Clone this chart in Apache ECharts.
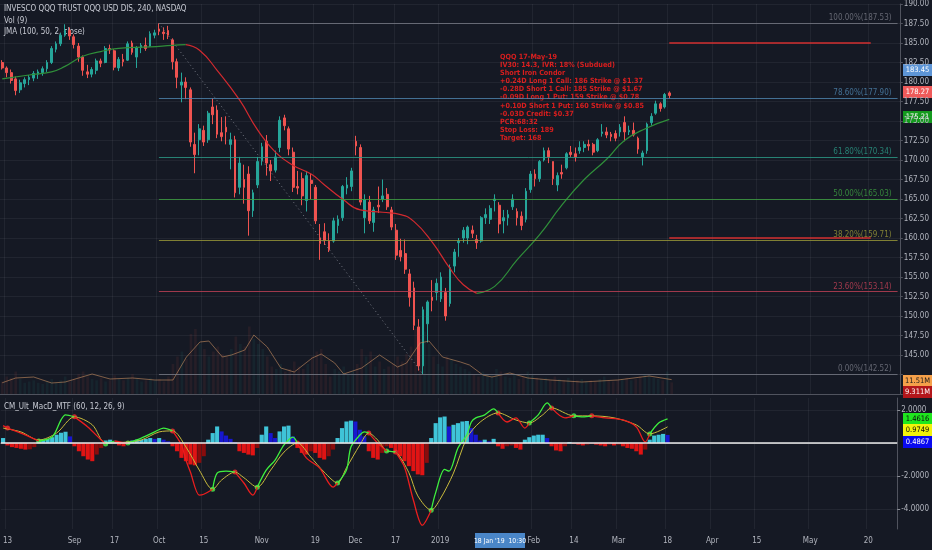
<!DOCTYPE html>
<html>
<head>
<meta charset="utf-8">
<script src="https://cdn.jsdelivr.net/npm/echarts@6/dist/echarts.min.js"></script>
<style>
html, body { margin: 0; padding: 0; background: #151924; }
#chart { width: 932px; height: 550px; }
</style>
</head>
<body>
<div id="chart"></div>
<script>
// trading calendar (weekdays minus exchange holidays), incl. empty future space
const holidays = ['2018-09-03', '2018-11-22', '2018-12-05', '2018-12-25', '2019-01-01', '2019-01-21', '2019-02-18'];
const firstDay = '2018-08-10';
const dayCount = 201;

// bottom time-scale labels
const tickLabels = {
    '2018-08-13': '13', '2018-09-04': 'Sep', '2018-09-17': '17', '2018-10-01': 'Oct',
    '2018-10-15': '15', '2018-11-01': 'Nov', '2018-11-19': '19', '2018-12-03': 'Dec',
    '2018-12-17': '17', '2019-01-02': '2019', '2019-02-01': 'Feb', '2019-02-14': '14',
    '2019-03-01': 'Mar', '2019-03-18': '18', '2019-04-01': 'Apr', '2019-04-15': '15',
    '2019-05-01': 'May', '2019-05-20': '20'
};

// QQQ daily bars: open, high, low, close
const candles = [
    [182.5,182.8,181.6,181.8],[181.8,182.0,180.6,181.2],[181.2,181.6,179.8,180.2],[180.4,180.7,178.3,178.9],
    [179.0,180.3,178.6,179.9],[179.8,180.6,179.3,180.3],[180.3,180.9,179.6,180.6],[180.5,181.4,180.1,181.1],
    [181.0,181.6,180.4,181.3],[181.2,182.0,180.8,181.7],[181.7,182.8,181.3,182.5],[182.5,184.6,182.3,184.3],
    [184.2,185.2,183.8,184.9],[184.9,186.3,184.6,186.0],[186.0,187.4,185.8,186.6],[186.6,187.0,185.4,185.9],
    [185.8,186.1,184.3,184.8],[184.6,185.0,182.6,183.2],[183.2,183.4,180.8,181.5],[181.3,182.2,180.5,181.0],
    [181.0,181.9,180.6,181.6],[181.5,183.0,181.0,182.7],[182.7,183.0,181.9,182.4],[182.5,184.6,182.4,184.3],
    [184.3,184.8,183.6,184.1],[184.0,184.2,181.5,181.9],[181.8,183.2,181.4,182.9],[182.9,183.6,182.0,182.6],
    [182.8,185.2,182.7,184.9],[185.0,185.3,183.5,183.8],[183.2,184.6,181.8,184.4],[184.4,185.0,183.7,184.7],
    [184.7,185.7,184.0,184.3],[184.6,186.5,184.5,186.2],[186.0,186.7,185.6,186.3],[186.8,187.53,186.0,186.5],
    [186.4,187.0,185.4,186.2],[186.6,187.2,185.5,186.0],[185.4,185.6,181.6,182.6],[182.6,183.0,179.2,180.6],
    [179.6,181.2,177.4,180.0],[180.0,180.6,177.8,179.3],[179.0,179.3,171.7,172.3],[172.0,173.5,168.3,170.7],
    [172.6,174.6,170.6,174.0],[173.8,174.4,171.8,172.3],[172.6,176.3,172.2,176.0],[176.8,177.9,174.6,175.8],
    [176.4,177.0,172.8,173.3],[173.5,175.5,172.4,173.0],[174.2,175.6,172.0,173.6],[172.0,173.5,168.8,172.6],
    [172.6,173.1,165.2,165.8],[166.5,170.4,165.6,169.6],[167.5,169.4,164.4,166.5],[168.2,169.2,160.3,163.5],
    [163.5,166.2,162.7,165.8],[166.8,170.4,166.4,169.8],[169.9,172.2,169.3,171.7],[172.4,173.2,168.0,169.6],
    [169.4,170.0,167.3,168.6],[168.7,171.2,168.4,170.4],[171.6,175.6,171.0,175.1],[175.4,175.8,173.8,174.4],
    [174.0,174.3,170.6,171.4],[171.0,171.6,165.9,166.5],[166.6,168.6,165.6,166.4],[167.6,168.4,164.2,165.4],
    [164.8,168.6,163.4,168.0],[167.4,168.2,165.0,167.0],[166.5,166.8,161.8,162.2],[160.0,161.8,157.2,159.3],
    [160.8,161.9,159.1,159.7],[159.6,160.6,158.2,158.5],[159.6,162.6,159.4,162.2],[161.6,162.9,160.6,162.4],
    [162.6,166.8,162.2,166.6],[166.4,167.8,165.6,166.8],[166.6,169.0,166.0,168.6],[172.4,173.1,170.6,171.8],
    [171.6,172.0,164.2,164.6],[162.6,165.6,160.6,164.9],[164.6,165.4,161.8,162.2],[162.0,164.0,160.8,163.6],
    [164.2,166.6,163.2,164.0],[165.0,167.5,164.6,165.4],[165.6,166.4,163.6,164.0],[163.6,164.0,161.0,161.4],
    [161.0,161.8,157.2,157.8],[158.4,159.9,157.0,157.6],[158.0,159.8,155.4,156.0],[155.4,156.0,151.2,152.4],
    [153.6,154.4,148.2,148.8],[148.6,149.6,143.0,143.6],[143.6,151.2,142.52,150.8],[149.0,152.0,146.6,151.8],
    [152.4,154.6,150.6,152.0],[153.0,154.8,152.0,154.2],[152.2,155.6,151.8,155.0],[153.0,153.6,149.4,150.0],
    [151.6,156.6,151.2,156.2],[156.4,158.6,155.6,158.2],[159.4,160.0,157.6,159.6],[160.0,161.4,159.4,161.0],
    [160.0,161.6,159.2,161.4],[161.0,161.6,160.0,160.6],[159.8,160.4,158.6,159.4],[159.6,162.8,159.4,162.6],
    [162.6,163.8,161.8,163.0],[162.4,164.2,161.8,163.8],[164.8,165.6,163.4,165.0],[164.2,164.6,160.6,161.8],
    [162.2,163.6,160.6,162.6],[162.6,163.6,161.6,163.0],[164.0,165.6,163.6,165.0],[163.4,163.8,161.6,162.6],
    [162.8,163.4,161.0,161.6],[162.4,166.4,162.0,166.0],[166.2,168.6,165.8,168.2],[168.2,168.8,166.6,167.6],
    [167.6,170.0,167.2,169.8],[170.0,171.6,169.8,171.2],[171.2,171.6,169.6,170.4],[169.8,169.8,166.8,167.6],
    [166.8,168.4,166.0,168.0],[168.4,169.4,167.6,168.2],[169.0,171.0,168.8,170.8],[171.0,171.8,170.4,170.7],
    [170.8,171.6,169.8,170.4],[171.2,172.4,170.8,171.6],[171.6,172.4,171.0,172.0],[172.0,172.6,171.2,171.8],
    [172.0,172.2,170.6,171.0],[171.2,172.8,171.0,172.6],[173.4,174.6,173.0,173.6],[173.6,174.2,172.8,173.2],
    [173.3,173.6,172.4,173.0],[173.4,173.8,172.4,172.8],[173.6,174.6,173.0,174.2],[174.8,175.6,172.4,173.6],
    [173.6,174.4,173.2,173.8],[173.8,174.8,173.0,173.2],[172.8,173.0,170.8,171.4],[170.4,171.2,169.3,170.9],
    [171.2,174.8,170.8,174.6],[174.8,176.0,174.4,175.6],[176.0,177.6,175.8,177.2],[177.2,177.4,176.2,176.6],
    [176.8,178.6,176.6,178.4],[178.6,178.8,177.9,178.27]
];

// volume in millions
const volumes = [
    10,14,13,18,12,9,10,11,9,8, 10,12,9,11,14,10,12,16,18,14,
    12,11,13,10,11,15,12,11,13,16, 12,10,11,13,11,12,10,14,24,30,
    34,28,48,52,40,36,30,34,38,32, 30,36,46,40,38,54,44,40,36,30,
    22,20,24,18,20,26,22,20,24,30, 34,36,24,14,20,18,22,16,18,24,
    36,30,34,22,26,20,22,24,30,26, 32,38,52,44,50,40,30,24,22,30,
    28,24,22,20,18,16,14,18,16,15, 20,18,14,13,16,12,14,18,15,13,
    12,13,11,14,12,11,13,10,11,12, 10,11,10,12,14,11,10,11,12,13,
    11,12,14,16,15,13,12,11,18,9.311
];
// Vol (9) average, [day index, millions]
const volAvg = [
    [0,9.0],[3,12.8],[7,13.6],[11,8.8],[14,9.6],[20,16.0],[24,12.0],[29,12.8],[34,11.2],[38,11.2],
    [41,29.6],[44,41.6],[46,42.4],[49,29.6],[51,31.2],[54,35.2],[56,47.2],[59,37.6],[62,20.8],[65,17.6],
    [69,28.8],[71,32.0],[74,24.8],[76,16.0],[80,20.8],[84,31.2],[88,21.6],[90,24.8],[93,40.8],[95,42.4],
    [98,29.6],[102,25.6],[104,23.2],[107,15.2],[109,13.6],[113,16.8],[117,12.8],[122,11.2],[129,9.6],
    [137,11.2],[144,14.4],[149,11.51]
];

// JMA (100, 50, 2, close)
const jmaRise1 = [[0,180.4],[6,180.9],[11,181.3],[14,182.0],[18,183.3],[22,183.9],[26,184.3],[33,184.5],[38,184.7],[41,184.8]];
const jmaFall = [[41,184.8],[44,184.1],[48,181.5],[53,177.7],[57,173.9],[61,171.0],[65,169.3],[69,168.2],[72,166.8],
    [76,165.0],[80,163.6],[85,163.3],[89,163.0],[92,162.1],[96,159.5],[100,156.1],[103,154.0],[106,152.9]];
const jmaRise2 = [[106,152.9],[110,153.8],[115,157.2],[120,160.4],[125,164.2],[130,167.5],[135,170.1],[139,172.5],[144,174.1],[149,175.21]];

// fib retracement Oct 1 high -> Dec 26 low
const fibLevels = ['100.00%', '78.60%', '61.80%', '50.00%', '38.20%', '23.60%', '0.00%'];
const fibPrices = [187.53, 177.90, 170.34, 165.03, 159.71, 153.14, 142.52];
const fibStartIdx = 35;
const fibLowIdx = 94;
// iron condor short strikes, drawn to expiry
const strikePrices = [185, 160];
const strikeFromIdx = 149;
const strikeToIdx = 194;

// CM_Ult_MacD_MTF
const histogram = [
    0.3,
    -0.15,-0.25,-0.3,-0.35,-0.4,-0.38,-0.25,
    0.1,0.2,0.25,0.35,0.5,0.62,0.68,0.4,
    -0.2,-0.5,-0.8,-1.0,-1.1,-0.7,-0.3,
    0.15,0.2,0.1,
    -0.15,-0.2,
    0.05,0.15,0.2,0.2,0.25,0.3,0.25,0.3,0.2,0.1,
    -0.2,-0.5,-0.9,-1.1,-1.3,-1.35,-1.2,-0.8,
    0.2,0.6,1.0,0.7,0.45,0.25,0.05,
    -0.5,-0.6,-0.7,-0.75,-0.3,
    0.5,1.0,0.6,0.3,0.7,1.0,1.05,0.4,
    -0.3,-0.6,-0.7,-0.5,-0.6,-0.9,-1.0,-0.8,-0.4,
    0.3,0.9,1.3,1.35,1.3,0.8,0.4,
    -0.5,-0.9,-1.0,-0.6,-0.2,-0.3,-0.5,-0.8,-1.1,-1.4,-1.7,-1.9,-1.95,-1.2,
    0.3,1.2,1.55,1.6,1.0,1.1,1.2,1.3,1.33,0.9,0.5,0.15,0.2,0.1,0.25,
    -0.2,-0.35,-0.2,-0.15,-0.3,-0.4,
    0.2,0.35,0.45,0.5,0.5,0.3,
    -0.2,-0.45,-0.5,-0.2,
    0.05,
    -0.05,-0.1,-0.15,-0.1,-0.05,-0.1,-0.15,-0.2,-0.1,-0.15,-0.1,-0.2,-0.3,-0.35,-0.5,-0.7,-0.4,
    0.2,0.45,0.5,0.55,0.4867
];
const signalLine = [[0,0.9],[4,0.67],[8,0.18],[12,0.6],[16,1.58],[20,1.1],[23,0],[28,0.06],[31,0.18],[35,0.67],
    [38,0.73],[41,-0.24],[44,-1.64],[47,-2.8],[49,-2.24],[52,-1.76],[54,-2.1],[57,-2.67],[60,-1.64],[63,-0.55],
    [66,0],[69,-0.85],[72,-1.76],[75,-2.42],[77,-1.5],[80,-0.12],[82,0.6],[84,0.18],[86,-0.48],[88,-0.55],
    [91,-1.8],[93,-3.2],[96,-4.06],[98,-3.4],[101,-1.82],[104,0.3],[107,1.27],[111,1.82],[115,1.39],[118,1.21],
    [121,1.7],[123,2.12],[128,1.64],[132,1.64],[137,1.52],[142,1.09],[145,0.55],[149,0.9749]];
const macdAbove = [
    [[8,0.12],[11,0.36],[13,1.4],[14,1.7],[16,1.58]],
    [[23,-0.06],[25,0.12]],
    [[28,0],[31,0.3],[34,0.67],[36,0.9],[38,0.73]],
    [[47,-2.8],[48,-1.82],[50,-1.7],[52,-1.76]],
    [[57,-2.67],[59,-1.64],[61,-1.03],[63,-0.12],[65,0.36],[66,0]],
    [[75,-2.42],[77,-1.64],[78,-0.24],[80,0.48],[81,0.67],[82,0.6]],
    [[86,-0.48],[88,-0.55]],
    [[96,-4.06],[97,-3.0],[99,-1.6],[100,-1.7],[102,-0.3],[104,0.5],[105,1.27],[106,1.52],[108,1.7],[110,2.06],[111,1.82]],
    [[118,1.21],[120,1.7],[122,2.42],[123,2.12]],
    [[128,1.64],[130,1.58],[132,1.64]],
    [[145,0.55],[147,1.21],[149,1.4616]]
];
const macdBelow = [
    [[0,1.05],[1,0.9],[4,0.6],[8,0.12]],
    [[16,1.58],[19,0.97],[22,0.18],[23,-0.06]],
    [[25,0.12],[27,0.02],[28,0]],
    [[38,0.73],[40,-0.12],[41,-1.03],[42,-1.76],[44,-3.15],[45,-3.1],[47,-2.8]],
    [[52,-1.76],[54,-2.42],[56,-3.15],[57,-2.67]],
    [[66,0],[68,-0.9],[71,-1.52],[74,-2.67],[75,-2.42]],
    [[82,0.6],[84,0],[86,-0.48]],
    [[88,-0.55],[90,-1.45],[92,-3.45],[94,-4.97],[96,-4.06]],
    [[111,1.82],[113,1.27],[115,1.52],[117,0.9],[118,1.21]],
    [[123,2.12],[126,1.52],[128,1.64]],
    [[132,1.64],[135,1.52],[139,1.39],[142,0.97],[144,0.06],[145,0.55]]
];
const crossUp = [[8,0.12],[23,-0.06],[28,0],[47,-2.8],[57,-2.67],[75,-2.42],[86,-0.48],[96,-4.06],[118,1.21],[128,1.64],[145,0.55]];
const crossDown = [[1,0.9],[16,1.58],[38,0.73],[52,-1.76],[66,0],[82,0.6],[88,-0.55],[111,1.82],[123,2.12],[132,1.64]];
const macdGridValues = [2, -2, -4];

const noteLines = [
    'QQQ 17-May-19',
    'IV30: 14.3, IVR: 18% (Subdued)',
    'Short Iron Condor',
    '+0.24D Long 1 Call: 186 Strike @ $1.37',
    '-0.28D Short 1 Call: 185 Strike @ $1.67',
    '-0.09D Long 1 Put: 159 Strike @ $0.78',
    '+0.10D Short 1 Put: 160 Strike @ $0.85',
    '-0.03D Credit: $0.37',
    'PCR:68:32',
    'Stop Loss: 189',
    'Target: 168'
];

(function () {
    function tradingDays(start, count, skip) {
        const out = [];
        let t = Date.parse(start + 'T00:00:00Z');
        while (out.length < count) {
            const d = new Date(t);
            const iso = d.toISOString().slice(0, 10);
            const wd = d.getUTCDay();
            if (wd !== 0 && wd !== 6 && skip.indexOf(iso) < 0) out.push(iso);
            t += 86400000;
        }
        return out;
    }
    const categories = tradingDays(firstDay, dayCount, holidays);
    const lastIdx = categories.length - 1;

    const UP = '#26a69a', DOWN = '#ef5350';
    const GRIDC = 'rgba(255,255,255,0.055)';
    const AXISTXT = '#b2b5be';
    const NARROW = '"Liberation Sans Narrow", "DejaVu Sans Condensed", "Noto Sans", sans-serif';
    const fibColors = ['#787b86', '#4f86b0', '#2c9c88', '#3fa142', '#9b9a38', '#c24156', '#787b86'];
    const isTick = (i, v) => tickLabels[v] !== undefined;

    const myChart = echarts.init(document.getElementById('chart'));

    const fibLines = fibPrices.map((p, i) => [
        {
            coord: [fibStartIdx, p],
            lineStyle: { color: fibColors[i], width: 1, type: 'solid', opacity: 0.8 },
            label: {
                show: true, position: 'insideEndTop', distance: [6, 1],
                formatter: fibLevels[i] + '(' + p.toFixed(2) + ')',
                color: fibColors[i], fontSize: 8, fontFamily: NARROW
            }
        },
        { coord: [lastIdx, p] }
    ]);
    const strikeLines = strikePrices.map(p => [
        { coord: [strikeFromIdx, p], lineStyle: { color: '#d32f2f', width: 1.5, type: 'solid' }, label: { show: false } },
        { coord: [strikeToIdx, p] }
    ]);
    const trendLine = [[
        { coord: [fibStartIdx, fibPrices[0]], lineStyle: { color: '#787b86', width: 1, type: [1, 3] }, label: { show: false } },
        { coord: [fibLowIdx, fibPrices[fibPrices.length - 1]] }
    ]];

    const lineSeries = (pts, color, width, xi, yi, smooth) => ({
        type: 'line', data: pts, xAxisIndex: xi, yAxisIndex: yi,
        showSymbol: false, smooth: smooth, silent: true,
        lineStyle: { color: color, width: width }
    });

    const series = [
        {
            name: 'QQQ', type: 'candlestick',
            data: candles.map(c => [c[0], c[3], c[2], c[1]]),
            xAxisIndex: 0, yAxisIndex: 0, barMaxWidth: 3,
            itemStyle: { color: UP, color0: DOWN, borderColor: UP, borderColor0: DOWN, borderWidth: 1 },
            markLine: {
                silent: true, symbol: 'none', animation: false,
                data: fibLines.concat(strikeLines, trendLine)
            }
        },
        lineSeries(jmaRise1, '#2f8f3a', 1.2, 0, 0, true),
        lineSeries(jmaFall, '#d22a2f', 1.2, 0, 0, true),
        lineSeries(jmaRise2, '#2f8f3a', 1.2, 0, 0, true),
        {
            type: 'bar', xAxisIndex: 1, yAxisIndex: 1, barCategoryGap: '40%', silent: true,
            data: volumes.map((v, i) => ({
                value: v,
                itemStyle: { color: candles[i][3] >= candles[i][0] ? 'rgba(38,166,154,0.08)' : 'rgba(239,83,80,0.08)' }
            }))
        },
        lineSeries(volAvg, 'rgba(214,150,100,0.7)', 0.8, 1, 1, false),
        {
            type: 'bar', xAxisIndex: 2, yAxisIndex: 2, barCategoryGap: '8%', silent: true,
            data: histogram.map((v, i) => {
                const prev = i > 0 ? histogram[i - 1] : 0;
                let c;
                if (v >= 0) c = v >= prev ? '#3fc4d8' : '#1717d0';
                else c = v <= prev ? '#e01414' : '#8a0c0c';
                return { value: v, itemStyle: { color: c } };
            }),
            markLine: {
                silent: true, symbol: 'none', animation: false, label: { show: false },
                data: macdGridValues.map(v => ({ yAxis: v, lineStyle: { color: GRIDC, width: 1, type: 'solid' } }))
                    .concat([{ yAxis: 0, lineStyle: { color: '#e8e8e8', width: 1.5, type: 'solid' } }])
            }
        },
        lineSeries(signalLine, '#c9bb3c', 1, 2, 2, 0.3)
    ];
    macdAbove.forEach(seg => series.push(lineSeries(seg, '#3ef03e', 1.3, 2, 2, 0.3)));
    macdBelow.forEach(seg => series.push(lineSeries(seg, '#ea1e1e', 1.3, 2, 2, 0.3)));
    series.push({
        type: 'scatter', xAxisIndex: 2, yAxisIndex: 2, data: crossUp, symbolSize: 5, silent: true,
        itemStyle: { color: '#4cf04c' }
    });
    series.push({
        type: 'scatter', xAxisIndex: 2, yAxisIndex: 2, data: crossDown, symbolSize: 5, silent: true,
        itemStyle: { color: '#f03030' }
    });

    const tag = (y, text, bg, fg) => ({
        type: 'group', children: [
            { type: 'rect', shape: { x: 903, y: y - 6, width: 29, height: 12 }, style: { fill: bg } },
            { type: 'text', x: 917.5, y: y, style: { text: text, fill: fg, fontSize: 7.5, fontFamily: NARROW, align: 'center', verticalAlign: 'middle' } }
        ]
    });
    const headText = (y, text) => ({
        type: 'text', left: 4, top: y,
        style: { text: text, fill: '#c8cbd4', fontSize: 8, fontFamily: NARROW }
    });

    const option = {
        backgroundColor: '#151924',
        animation: false,
        grid: [
            { left: 0, right: 29, top: 0, height: 394 },
            { left: 0, right: 29, top: 314, height: 80 },
            { left: 0, right: 29, top: 398, height: 131 }
        ],
        xAxis: [
            {
                type: 'category', data: categories, gridIndex: 0, boundaryGap: true,
                axisLabel: { show: false }, axisTick: { show: false },
                axisLine: { show: true, lineStyle: { color: '#50535e' } },
                splitLine: { show: true, interval: isTick, lineStyle: { color: GRIDC } }
            },
            {
                type: 'category', data: categories, gridIndex: 1, boundaryGap: true, show: false
            },
            {
                type: 'category', data: categories, gridIndex: 2, boundaryGap: true,
                axisLine: { show: true, lineStyle: { color: '#50535e' } },
                axisTick: { show: false },
                axisLabel: {
                    interval: isTick, formatter: v => tickLabels[v] || '',
                    color: AXISTXT, fontSize: 8, fontFamily: NARROW, margin: 8
                },
                splitLine: { show: true, interval: isTick, lineStyle: { color: GRIDC } }
            }
        ],
        yAxis: [
            {
                type: 'value', gridIndex: 0, position: 'right', min: 140, max: 190, interval: 2.5,
                axisLine: { show: true, lineStyle: { color: '#50535e' } },
                axisTick: { show: true, length: 3, lineStyle: { color: '#50535e' } },
                axisLabel: {
                    color: AXISTXT, fontSize: 8, fontFamily: NARROW, margin: 4,
                    formatter: v => v >= 144 ? v.toFixed(2) : ''
                },
                splitLine: { show: true, lineStyle: { color: GRIDC } }
            },
            {
                type: 'value', gridIndex: 1, min: 0, max: 64, show: false, splitLine: { show: false }
            },
            {
                type: 'value', gridIndex: 2, position: 'right', min: -5.2, max: 2.72,
                axisLine: { show: true, lineStyle: { color: '#50535e' } },
                axisTick: { show: true, length: 3, customValues: macdGridValues, lineStyle: { color: '#8a8d96' } },
                axisLabel: {
                    customValues: macdGridValues, color: AXISTXT, fontSize: 8, fontFamily: NARROW, margin: 4,
                    formatter: v => v.toFixed(4)
                },
                splitLine: { show: false }
            }
        ],
        graphic: [
            headText(5, 'INVESCO QQQ TRUST QQQ USD DIS, 240, NASDAQ'),
            headText(17, 'Vol (9)'),
            headText(28, 'JMA (100, 50, 2, close)'),
            headText(403, 'CM_Ult_MacD_MTF (60, 12, 26, 9)'),
            {
                type: 'text', left: 500, top: 53,
                style: {
                    text: noteLines.join('\n'), fill: '#d81e1e', fontSize: 7.2, lineHeight: 8.1,
                    fontWeight: 600, fontFamily: NARROW
                }
            },
            {
                type: 'group', children: [
                    { type: 'rect', shape: { x: 475, y: 533, width: 50, height: 15 }, style: { fill: '#4a86c8' } },
                    { type: 'text', x: 500, y: 541, style: { text: "18 Jan '19  10:30", fill: '#ffffff', fontSize: 6.8, fontFamily: NARROW, align: 'center', verticalAlign: 'middle' } }
                ]
            },
            tag(70, '183.45', '#5d95d6', '#ffffff'),
            tag(92, '178.27', '#ef5a5a', '#ffffff'),
            tag(117, '175.21', '#149a1e', '#ffffff'),
            tag(381, '11.51M', '#f5a04a', '#1a1a1a'),
            tag(392, '9.311M', '#b3161b', '#ffffff'),
            tag(419, '1.4616', '#1ee61e', '#0a0a0a'),
            tag(430, '0.9749', '#f2f20a', '#0a0a0a'),
            tag(442, '0.4867', '#0a0af0', '#ffffff')
        ],
        series: series
    };
    myChart.setOption(option);
    window.addEventListener('resize', () => {
        myChart.resize();
    });
})();
</script>
</body>
</html>
